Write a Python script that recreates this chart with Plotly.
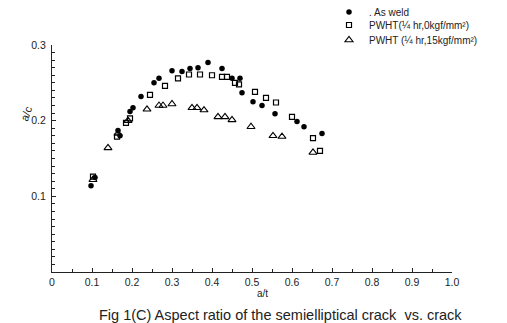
import plotly.graph_objects as go

# As weld (filled circles)
aw_x = [0.0975, 0.1075, 0.165, 0.17, 0.195, 0.2025, 0.2225, 0.255, 0.2675, 0.30, 0.325, 0.345,
        0.365, 0.39, 0.425, 0.45, 0.47, 0.475, 0.5025, 0.525, 0.5575, 0.6125, 0.63, 0.675]
aw_y = [0.114, 0.125, 0.187, 0.180, 0.212, 0.217, 0.232, 0.250, 0.256, 0.266, 0.265, 0.269,
        0.270, 0.277, 0.269, 0.256, 0.256, 0.237, 0.225, 0.220, 0.209, 0.199, 0.192, 0.183]

# PWHT (1/4hr, 0 kgf/mm2) (open squares)
p0_x = [0.1025, 0.1625, 0.185, 0.195, 0.245, 0.2825, 0.315, 0.3425, 0.37, 0.40, 0.425, 0.4375,
        0.4575, 0.4675, 0.5075, 0.535, 0.56, 0.60, 0.6525, 0.67]
p0_y = [0.126, 0.179, 0.197, 0.203, 0.234, 0.246, 0.256, 0.261, 0.261, 0.260, 0.258, 0.258,
        0.250, 0.248, 0.238, 0.230, 0.224, 0.205, 0.177, 0.160]

# PWHT (1/4hr, 15 kgf/mm2) (open triangles)
p15_x = [0.1025, 0.14, 0.165, 0.19, 0.2375, 0.2675, 0.2775, 0.30, 0.35, 0.3625, 0.38, 0.415,
         0.4325, 0.45, 0.4975, 0.5525, 0.575, 0.6525]
p15_y = [0.122, 0.164, 0.183, 0.200, 0.215, 0.220, 0.220, 0.222, 0.217, 0.217, 0.214, 0.205,
         0.205, 0.201, 0.192, 0.180, 0.179, 0.158]

series_names = [". As weld", "PWHT(\u00bc hr,0kgf/mm\u00b2)", "PWHT (\u00bc hr,15kgf/mm\u00b2)"]

x_label_alias = {"1": "1.0"}
y_label_alias = {"0": ""}

FONT = "Liberation Sans"
INK = "#222"

fig = go.Figure()
fig.add_trace(go.Scatter(x=aw_x, y=aw_y, mode="markers", name=series_names[0], legend="legend",
                         marker=dict(symbol="circle", size=5.5, color="black")))
fig.add_trace(go.Scatter(x=p0_x, y=p0_y, mode="markers", name=series_names[1], legend="legend2",
                         marker=dict(symbol="square-open", size=5, color="black",
                                     line=dict(width=1.2))))
fig.add_trace(go.Scatter(x=p15_x, y=p15_y, mode="markers", name=series_names[2], legend="legend3",
                         marker=dict(symbol="triangle-up-open", size=7, color="black",
                                     line=dict(width=1.1))))

leg_common = dict(x=0.6925, xanchor="left", yanchor="middle",
                  font=dict(size=10, color=INK), bgcolor="rgba(0,0,0,0)",
                  itemsizing="trace", itemwidth=30)

fig.update_layout(
    width=507, height=323,
    margin=dict(l=52, r=55, t=45, b=51, autoexpand=False),
    paper_bgcolor="white", plot_bgcolor="white",
    font=dict(family=FONT, size=11, color=INK),
    showlegend=True,
    legend=dict(y=1.145, **leg_common),
    legend2=dict(y=1.088, **leg_common),
    legend3=dict(y=1.022, **leg_common),
    xaxis=dict(range=[0, 1.0], tickmode="linear", tick0=0, dtick=0.1,
               labelalias=x_label_alias,
               showgrid=False, zeroline=False, showline=True, linecolor=INK, linewidth=1,
               ticks="inside", ticklen=4, tickcolor=INK,
               minor=dict(tickmode="linear", tick0=0, dtick=0.05, ticks="inside",
                          ticklen=3, tickcolor=INK, tickwidth=1, showgrid=False),
               tickfont=dict(size=10.5)),
    yaxis=dict(range=[0, 0.3], tickmode="linear", tick0=0, dtick=0.1,
               labelalias=y_label_alias,
               showgrid=False, zeroline=False, showline=True, linecolor=INK, linewidth=1,
               ticks="inside", ticklen=4, tickcolor=INK,
               minor=dict(tickmode="linear", tick0=0, dtick=0.01, ticks="inside",
                          ticklen=3, tickcolor=INK, tickwidth=1, showgrid=False),
               tickfont=dict(size=10.5), ticklabelstandoff=3),
    annotations=[
        dict(text="a/c", x=-0.09, y=0.75, xref="paper", yref="paper",
             showarrow=False, textangle=-70, font=dict(size=11, color=INK)),
        dict(text="a/t", x=0.525, y=-0.06, xref="paper", yref="paper",
             showarrow=False, yanchor="top", font=dict(size=10, color=INK)),
        dict(text="Fig 1(C) Aspect ratio of the semielliptical crack  vs. crack",
             x=0.57, y=-0.145, xref="paper", yref="paper", showarrow=False,
             yanchor="top", font=dict(size=14.5, color=INK)),
    ],
)

fig.write_html("out.html")
